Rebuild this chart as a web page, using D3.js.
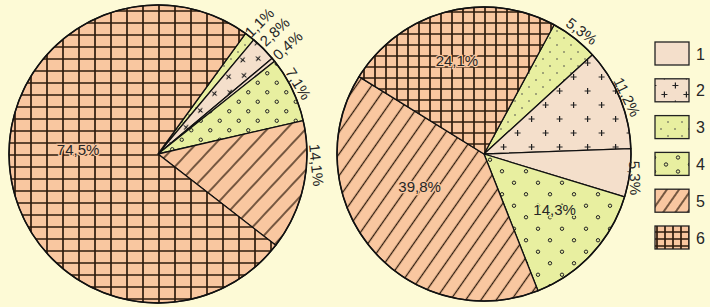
<!DOCTYPE html>
<html>
<head>
<meta charset="utf-8">
<script src="https://cdn.jsdelivr.net/npm/d3@7/dist/d3.min.js"></script>
<style>
  html, body { margin: 0; padding: 0; background: #fdfad6; }
  svg { display: block; }
  text { font-family: "Liberation Sans", Arial, sans-serif; fill: #262626; }
</style>
</head>
<body>
<div id="chart"></div>
<script>
// slice order, clockwise from the start angle
const categories = ['3', '2', '1', '4', '5', '6'];
const leftValues = [1.1, 2.8, 0.4, 7.1, 14.1, 74.5];
const rightValues = [5.3, 11.2, 5.3, 14.3, 39.8, 24.1];
const legendLabels = ['1', '2', '3', '4', '5', '6'];

const width = 710;
const height = 307;

const salmon = '#f9c7a0';
const pink = '#f4dfcb';
const lime = '#e8efa0';
const ink = '#2e1b0c';

const svg = d3.select('#chart')
    .append('svg')
    .attr('width', width)
    .attr('height', height)
    .attr('viewBox', `0 0 ${width} ${height}`);

svg.append('rect').attr('width', width).attr('height', height).attr('fill', '#fdfad6');

const defs = svg.append('defs');

function pattern(id, w, h, bg, rotate) {
    const p = defs.append('pattern')
        .attr('id', id)
        .attr('patternUnits', 'userSpaceOnUse')
        .attr('width', w)
        .attr('height', h);
    if (rotate) p.attr('patternTransform', `rotate(${rotate})`);
    p.append('rect').attr('width', w).attr('height', h).attr('fill', bg);
    return p;
}

function plus(p, x, y, s) {
    p.append('path')
        .attr('d', `M${x - s},${y}H${x + s}M${x},${y - s}V${y + s}`)
        .attr('stroke', '#222').attr('stroke-width', 1.2);
}

// 1 - plain
pattern('p1', 10, 10, pink);

// 2 - plus signs
function plusPattern(id, w, h, rot) {
    const p = pattern(id, w, h, pink, rot);
    plus(p, w * 0.2, h * 0.25, 3);
    plus(p, w * 0.7, h * 0.75, 3);
}
plusPattern('p2L', 22, 22, 40);
plusPattern('p2R', 28, 28, 0);
plusPattern('p2G', 22, 18, 0);

// 3 - small dots
function dotPattern(id) {
    const p = pattern(id, 14, 14, lime);
    [[3, 3], [10, 10]].forEach(([x, y]) => {
        p.append('circle').attr('cx', x).attr('cy', y).attr('r', 0.8).attr('fill', '#444');
    });
}
dotPattern('p3L');
dotPattern('p3R');
dotPattern('p3G');

// 4 - little rings
function ringPattern(id, w, h) {
    const p = pattern(id, w, h, lime);
    [[w * 0.25, h * 0.25], [w * 0.75, h * 0.75]].forEach(([x, y]) => {
        p.append('circle').attr('cx', x).attr('cy', y).attr('r', 1.7)
            .attr('fill', 'none').attr('stroke', '#222').attr('stroke-width', 1);
    });
}
ringPattern('p4L', 19, 19);
ringPattern('p4R', 24, 23);
ringPattern('p4G', 24, 14);

// 5 - diagonal hatch
function hatchPattern(id, gap, rot) {
    const p = pattern(id, gap, 20, salmon, rot);
    p.append('line').attr('x1', gap / 2).attr('x2', gap / 2).attr('y1', 0).attr('y2', 20)
        .attr('stroke', ink).attr('stroke-width', 1.3);
}
hatchPattern('p5L', 14, 43);
hatchPattern('p5R', 12.5, 35);
hatchPattern('p5G', 10, 35);

// 6 - grid
function gridPattern(id, w, h) {
    const p = pattern(id, w, h, salmon);
    p.append('path').attr('d', `M0,1H${w}M1,0V${h}`)
        .attr('stroke', ink).attr('stroke-width', 1.7);
}
gridPattern('p6L', 16, 12);
gridPattern('p6R', 11, 11);
gridPattern('p6G', 8, 7);

const fillFor = (cat, side) => cat === '1' ? 'url(#p1)' : `url(#p${cat}${side})`;
const haloFor = cat => (cat === '5' || cat === '6') ? salmon : (cat === '4' || cat === '3') ? lime : pink;

const fmt = v => d3.format('.1f')(v).replace('.', ',') + '%';

// label placement: polar position (deg from top, distance), text rotation, inside or not
const leftLabelLayout = [
    { a: 37.6, r: 166, rot: -45 },
    { a: 43.6, r: 169, rot: -43 },
    { a: 50.0, r: 169, rot: -43 },
    { a: 63.4, r: 157, rot: 58 },
    { a: 94.0, r: 159, rot: 84 },
    { a: 273.0, r: 80, rot: 0, inside: true }
];
const rightLabelLayout = [
    { a: 38.5, r: 157, rot: 37 },
    { a: 68.3, r: 154, rot: 64 },
    { a: 99.0, r: 153, rot: 88 },
    { a: 128.3, r: 90, rot: 0, inside: true },
    { a: 243.4, r: 72, rot: 0, inside: true },
    { a: 343.8, r: 97, rot: 0, inside: true }
];

function drawPie(values, cx, cy, radius, startDeg, side, layout) {
    const start = startDeg * Math.PI / 180;
    const pie = d3.pie().sort(null).value(d => d.v)
        .startAngle(start).endAngle(start + 2 * Math.PI);
    const arc = d3.arc().innerRadius(0).outerRadius(radius);
    const data = values.map((v, i) => ({ v, cat: categories[i] }));

    const g = svg.append('g').attr('transform', `translate(${cx},${cy})`);

    g.selectAll('path.slice')
        .data(pie(data))
        .enter()
        .append('path')
        .classed('slice', true)
        .attr('d', arc)
        .attr('fill', d => fillFor(d.data.cat, side))
        .attr('stroke', '#111')
        .attr('stroke-width', 1.3)
        .attr('stroke-linejoin', 'round');

    g.append('circle').attr('r', radius).attr('fill', 'none')
        .attr('stroke', '#111').attr('stroke-width', 1.5);

    g.selectAll('text')
        .data(data)
        .enter()
        .append('text')
        .attr('transform', (d, i) => {
            const l = layout[i];
            const a = l.a * Math.PI / 180;
            const x = Math.sin(a) * l.r;
            const y = -Math.cos(a) * l.r;
            return `translate(${x},${y}) rotate(${l.rot})`;
        })
        .attr('text-anchor', 'middle')
        .attr('dominant-baseline', 'central')
        .attr('stroke', (d, i) => layout[i].inside ? haloFor(d.cat) : 'none')
        .attr('stroke-width', 2.5)
        .attr('paint-order', 'stroke')
        .style('font-size', '15px')
        .text(d => fmt(d.v));
}

drawPie(leftValues, 158, 154, 149, 36, 'L', leftLabelLayout);
drawPie(rightValues, 484, 154, 147, 28.5, 'R', rightLabelLayout);

// legend
const legendY = d3.scalePoint().domain(legendLabels).range([42, 226]);
const legend = svg.append('g');
const item = legend.selectAll('g')
    .data(legendLabels)
    .enter()
    .append('g');

item.append('rect')
    .attr('x', 655)
    .attr('y', d => legendY(d))
    .attr('width', 34)
    .attr('height', 23)
    .attr('fill', d => d === '1' ? 'url(#p1)' : `url(#p${d}G)`)
    .attr('stroke', '#222')
    .attr('stroke-width', 1.3);

item.append('text')
    .attr('x', 696)
    .attr('y', d => legendY(d) + 12)
    .attr('dominant-baseline', 'central')
    .style('font-size', '16px')
    .text(d => d);
</script>
</body>
</html>
